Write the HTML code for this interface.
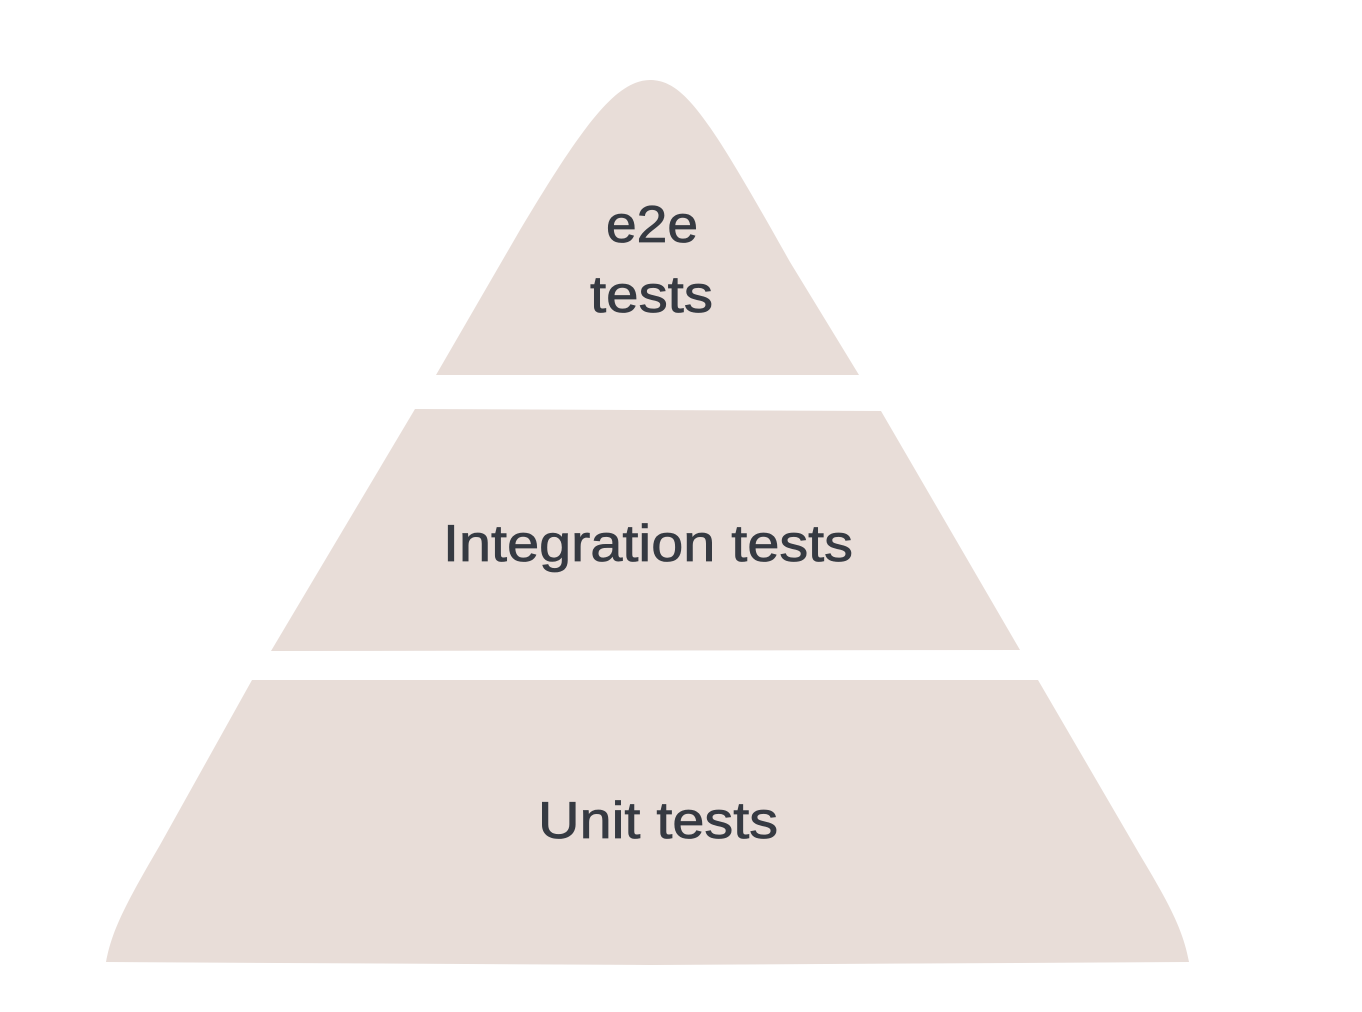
<!DOCTYPE html>
<html><head><meta charset="utf-8"><style>
html,body{margin:0;padding:0;background:#fff;}
svg{display:block;}
text{font-family:"Liberation Sans",sans-serif;font-size:52px;fill:#363a42;stroke:#363a42;stroke-width:0.8;}
</style></head><body>
<svg width="1362" height="1012" viewBox="0 0 1362 1012" xmlns="http://www.w3.org/2000/svg">
<g fill="#e8ddd8">
<path d="M436,375 L520,230 C580,130 615,80 650,80 C685,80 710,120 790,262 L859,375 Z"/>
<path d="M415,409 L881,411 L1020,650 L271,651 Z"/>
<path d="M252,680 L1038,680 L1140,855 C1170,905 1183,930 1189,962 L650,965 L106,962 C112,930 125,905 160,845 Z"/>
</g>
<text x="606" y="242" textLength="92" lengthAdjust="spacingAndGlyphs">e2e</text>
<text x="590" y="312" textLength="123" lengthAdjust="spacingAndGlyphs">tests</text>
<text x="443" y="561" textLength="410" lengthAdjust="spacingAndGlyphs">Integration tests</text>
<text x="538" y="838" textLength="240" lengthAdjust="spacingAndGlyphs">Unit tests</text>
</svg>
</body></html>
